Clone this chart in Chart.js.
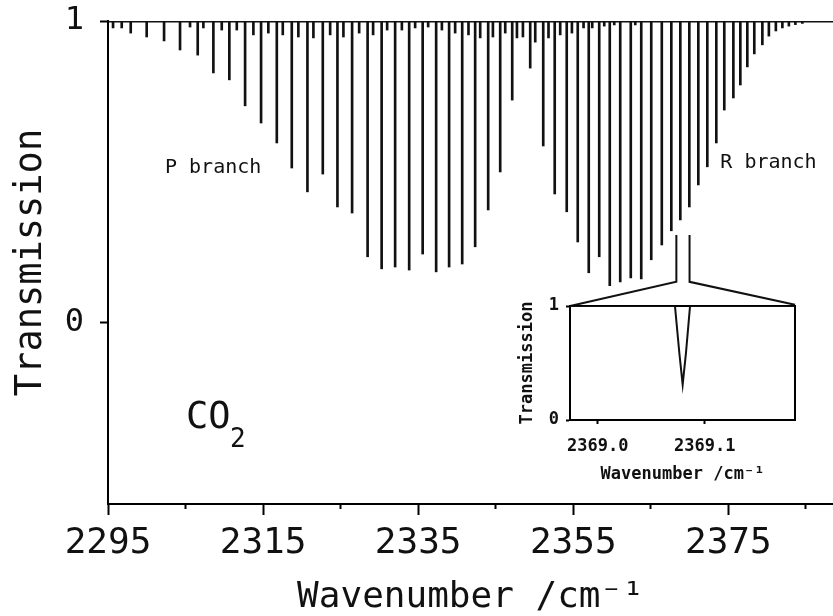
<!DOCTYPE html>
<html>
<head>
<meta charset="utf-8">
<script src="https://cdn.jsdelivr.net/npm/chart.js@4.4.1/dist/chart.umd.min.js"></script>
<style>
  body { margin: 0; background: #fff; }
  #wrap { position: relative; width: 833px; height: 616px; }
  #main { position: absolute; left: 0; top: 0; }
  #inset { position: absolute; left: 505px; top: 285px; }
</style>
</head>
<body>
<div id="wrap">
  <canvas id="main" width="833" height="616"></canvas>
  <canvas id="inset" width="320" height="205"></canvas>
</div>
<script>
// strong lines: wavenumber (cm-1) and transmission at line centre
const lineNu = [2295.65, 2296.77, 2297.93, 2299.99, 2302.23, 2304.29, 2306.57, 2308.59, 2310.65, 2312.68,
  2314.74, 2316.77, 2318.70, 2320.72, 2322.70, 2324.59, 2326.48, 2328.48, 2330.29, 2332.03,
  2333.84, 2335.58, 2337.32, 2338.99, 2340.68, 2342.35, 2344.03, 2345.58, 2347.13, 2349.45,
  2351.13, 2352.61, 2354.16, 2355.58, 2357.00, 2358.35, 2359.71, 2361.06, 2362.42, 2363.77,
  2365.06, 2366.42, 2367.65, 2368.81, 2369.97, 2371.13, 2372.29, 2373.45, 2374.48, 2375.65,
  2376.55, 2377.45, 2378.35, 2379.39, 2380.23, 2381.13, 2381.97, 2382.81, 2383.65, 2384.55];
const lineT = [0.977, 0.977, 0.960, 0.947, 0.934, 0.904, 0.887, 0.828, 0.805, 0.719,
  0.662, 0.596, 0.513, 0.434, 0.493, 0.384, 0.364, 0.219, 0.179, 0.185,
  0.175, 0.228, 0.169, 0.185, 0.195, 0.252, 0.374, 0.500, 0.738, 0.844,
  0.586, 0.427, 0.368, 0.268, 0.166, 0.219, 0.123, 0.136, 0.149, 0.146,
  0.209, 0.258, 0.305, 0.341, 0.384, 0.457, 0.517, 0.596, 0.705, 0.745,
  0.788, 0.848, 0.891, 0.921, 0.950, 0.967, 0.977, 0.983, 0.988, 0.992];

// weak (hot band) lines hanging off the baseline
const weakNu = [2305.58, 2307.30, 2309.67, 2311.61, 2313.75, 2315.68, 2317.54, 2319.55, 2321.49, 2323.65,
  2325.36, 2327.39, 2329.19, 2331.00, 2332.90, 2334.61, 2336.29, 2338.06, 2339.77, 2341.49,
  2343.00, 2344.64, 2346.23, 2347.74, 2348.51, 2350.10, 2351.81, 2353.32, 2354.83, 2356.33,
  2357.45, 2359.00, 2360.29, 2363.00];
const weakT = [0.980, 0.977, 0.970, 0.970, 0.954, 0.960, 0.954, 0.947, 0.944, 0.954,
  0.947, 0.960, 0.954, 0.970, 0.970, 0.977, 0.980, 0.970, 0.960, 0.954,
  0.944, 0.947, 0.960, 0.944, 0.947, 0.930, 0.944, 0.954, 0.960, 0.977,
  0.977, 0.983, 0.987, 0.987];

const baseNu = [2295, 2388.5];
const xTicks = [2295, 2305, 2315, 2325, 2335, 2345, 2355, 2365, 2375, 2385];
const xMajor = [2295, 2315, 2335, 2355, 2375];
const yTicks = [0, 1];

// zoom marker joining the inset to the R line
const bracketLeftNu = [2354.6, 2368.3, 2368.3];
const bracketLeftT = [0.056, 0.136, 0.291];
const bracketRightNu = [2383.6, 2370.0, 2370.0];
const bracketRightT = [0.060, 0.136, 0.291];

// inset: one line at high resolution
const insetNu = [2368.974, 2369.0722, 2369.0763, 2369.0794, 2369.0825, 2369.0863, 2369.184];
const insetT = [1, 1, 0.588, 0.31, 0.588, 1, 1];
const insetTicks = [2369.0, 2369.1];

const notes = [
  {text: 'P branch', nu: 2302.35, t: 0.497, size: 20},
  {text: 'R branch', nu: 2373.97, t: 0.513, size: 20},
  {text: 'CO', nu: 2305.06, t: -0.348, size: 37},
  {text: '2', nu: 2310.74, t: -0.411, size: 26}
];

const FONT = 'DejaVu Sans Mono';
const INK = '#111';

const notePlugin = {
  id: 'notes',
  afterDatasetsDraw(chart) {
    const {ctx, scales: {x, y}} = chart;
    ctx.save();
    ctx.fillStyle = INK;
    ctx.textBaseline = 'alphabetic';
    notes.forEach(n => {
      ctx.font = n.size + 'px "' + FONT + '"';
      ctx.fillText(n.text, x.getPixelForValue(n.nu), y.getPixelForValue(n.t));
    });
    ctx.restore();
  }
};

const toPts = (xs, ys) => xs.map((v, i) => ({x: v, y: ys[i]}));

new Chart(document.getElementById('main'), {
  type: 'bar',
  data: {
    datasets: [
      {type: 'line', data: baseNu.map(v => ({x: v, y: 1})), borderColor: INK, borderWidth: 3, pointRadius: 0},
      {data: lineNu.map((v, i) => ({x: v, y: [lineT[i], 1]})), backgroundColor: INK, barThickness: 2, grouped: false},
      {data: weakNu.map((v, i) => ({x: v, y: [weakT[i], 1]})), backgroundColor: INK, barThickness: 2, grouped: false},
      {type: 'line', data: toPts(bracketLeftNu, bracketLeftT), borderColor: INK, borderWidth: 2, pointRadius: 0},
      {type: 'line', data: toPts(bracketRightNu, bracketRightT), borderColor: INK, borderWidth: 2, pointRadius: 0}
    ]
  },
  options: {
    responsive: false,
    animation: false,
    layout: {padding: {top: 21, right: 0, left: 0, bottom: 0}},
    plugins: {legend: {display: false}, tooltip: {enabled: false}},
    scales: {
      x: {
        type: 'linear', min: 2295, max: 2388.5, offset: false,
        afterBuildTicks: s => { s.ticks = xTicks.map(v => ({value: v})); },
        afterFit: s => { s.height = 112; s.paddingLeft = 0; s.paddingRight = 0; },
        border: {color: '#000', width: 2},
        grid: {
          drawOnChartArea: false, offset: false, tickLength: 11, tickWidth: 2, tickColor: '#000',
          tickBorderDash: c => (c.tick && !xMajor.includes(c.tick.value)) ? [4, 60] : []
        },
        ticks: {
          autoSkip: false, maxRotation: 0, padding: 7, color: INK,
          font: {family: FONT, size: 36},
          callback: v => xMajor.includes(v) ? String(v) : ''
        },
        title: {display: true, text: 'Wavenumber /cm\u207B\u00B9', color: INK,
          font: {family: FONT, size: 36, lineHeight: 1}, padding: {top: 0, bottom: 0}}
      },
      y: {
        min: -0.6, max: 1,
        afterBuildTicks: s => { s.ticks = yTicks.map(v => ({value: v})); },
        afterFit: s => { s.width = 108; s.paddingTop = 0; s.paddingBottom = 0; },
        border: {color: '#000', width: 2},
        grid: {drawOnChartArea: false, tickLength: 8, tickWidth: 2, tickColor: '#000'},
        ticks: {padding: 16, color: INK, font: {family: FONT, size: 32}, callback: v => String(v)},
        title: {display: true, text: 'Transmission', color: INK,
          font: {family: FONT, size: 37, lineHeight: 1}, padding: {top: 13, bottom: 0}}
      }
    }
  },
  plugins: [notePlugin]
});

const boldFont = size => ({family: FONT, size: size, weight: 'bold'});

new Chart(document.getElementById('inset'), {
  type: 'line',
  data: {
    datasets: [{data: toPts(insetNu, insetT), borderColor: INK, borderWidth: 2, pointRadius: 0, tension: 0}]
  },
  options: {
    responsive: false,
    animation: false,
    layout: {padding: {top: 21, right: 30, left: 0, bottom: 0}},
    plugins: {legend: {display: false}, tooltip: {enabled: false}},
    scales: {
      x: {
        type: 'linear', min: 2368.9741, max: 2369.1844,
        afterBuildTicks: s => { s.ticks = insetTicks.map(v => ({value: v})); },
        afterFit: s => { s.height = 70; s.paddingLeft = 0; s.paddingRight = 0; },
        border: {color: '#000', width: 2},
        grid: {drawOnChartArea: false, tickLength: 4, tickWidth: 2, tickColor: '#000'},
        ticks: {autoSkip: false, maxRotation: 0, padding: 12, color: INK, font: boldFont(17),
          callback: v => v.toFixed(1)},
        title: {display: true, text: 'Wavenumber /cm\u207B\u00B9', color: INK,
          font: Object.assign(boldFont(17), {lineHeight: 1}), padding: {top: 0, bottom: 7}}
      },
      y: {
        min: 0, max: 1,
        afterBuildTicks: s => { s.ticks = yTicks.map(v => ({value: v})); },
        afterFit: s => { s.width = 65; s.paddingTop = 0; s.paddingBottom = 0; },
        border: {color: '#000', width: 2},
        grid: {drawOnChartArea: false, tickLength: 4, tickWidth: 2, tickColor: '#000'},
        ticks: {padding: 7, color: INK, font: boldFont(17), callback: v => String(v)},
        title: {display: true, text: 'Transmission', color: INK,
          font: Object.assign(boldFont(17), {lineHeight: 1}), padding: {top: 14, bottom: 0}}
      },
      x2: {
        type: 'linear', position: 'top', min: 2368.9741, max: 2369.1844,
        afterFit: s => { s.height = 0; },
        border: {color: '#000', width: 2},
        grid: {drawOnChartArea: false, drawTicks: false},
        ticks: {display: false}
      },
      y2: {
        type: 'linear', position: 'right', min: 0, max: 1,
        afterFit: s => { s.width = 0; },
        border: {color: '#000', width: 2},
        grid: {drawOnChartArea: false, drawTicks: false},
        ticks: {display: false}
      }
    }
  }
});
</script>
</body>
</html>
